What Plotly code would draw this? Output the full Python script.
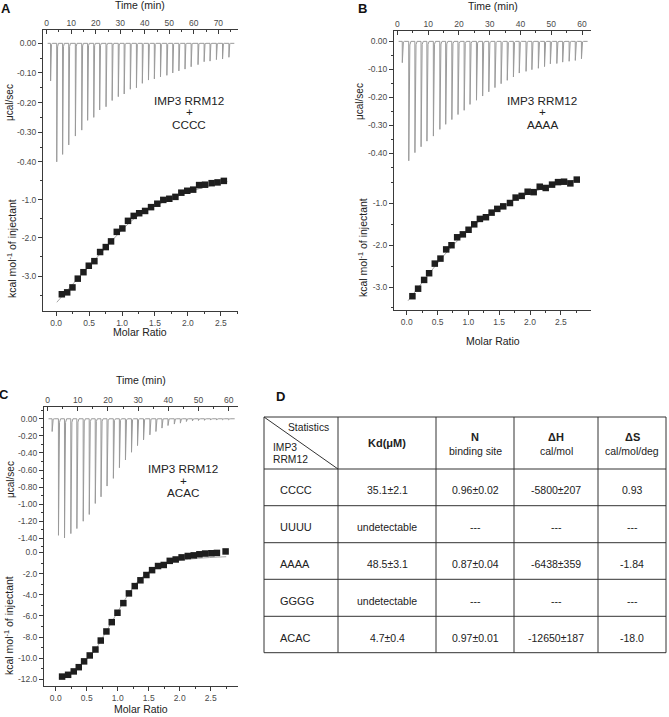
import plotly.graph_objects as go

W, H = 669, 717
FONT = "Liberation Sans, Arial, sans-serif"

# ---------------- DATA ----------------
# Panel A : IMP3 RRM12 + CCCC
A_inj_time = [1.6, 4.1, 6.5, 9.0, 11.7, 14.3, 16.7, 19.2, 21.6, 24.2, 26.7, 29.2, 31.6, 34.1, 36.6,
              39.0, 41.5, 43.9, 46.4, 49.0, 51.4, 53.9, 56.4, 58.9, 61.7, 64.2, 66.6, 69.2, 71.7, 74.3]
A_inj_peak = [-0.127, -0.40, -0.375, -0.343, -0.313, -0.293, -0.26, -0.25, -0.225, -0.214, -0.193,
              -0.18, -0.171, -0.155, -0.15, -0.135, -0.124, -0.12, -0.113, -0.108, -0.10, -0.093,
              -0.087, -0.079, -0.072, -0.062, -0.06, -0.055, -0.053, -0.047]
A_ratio = [0.086, 0.167, 0.247, 0.328, 0.414, 0.495, 0.58, 0.667, 0.753, 0.833, 0.92, 1.005, 1.09,
           1.177, 1.26, 1.35, 1.44, 1.535, 1.626, 1.717, 1.81, 1.90, 1.99, 2.08, 2.17, 2.26, 2.36,
           2.45, 2.545]
A_heat = [-3.48, -3.43, -3.30, -3.07, -2.90, -2.73, -2.61, -2.37, -2.24, -2.09, -1.84, -1.75, -1.55,
          -1.42, -1.35, -1.29, -1.19, -1.10, -1.00, -0.97, -0.92, -0.81, -0.76, -0.73, -0.61, -0.60,
          -0.56, -0.54, -0.50]
A_fit_x = [0.01, 0.3, 0.6, 0.9, 1.2, 1.5, 1.8, 2.1, 2.4, 2.6]
A_fit_y = [-3.69, -3.12, -2.55, -1.97, -1.47, -1.16, -0.93, -0.74, -0.60, -0.52]

# Panel B : IMP3 RRM12 + AAAA
B_inj_time = [1.6, 3.7, 5.7, 7.7, 9.6, 11.7, 13.8, 15.7, 17.7, 19.7, 21.7, 23.6, 25.7, 27.7, 29.7,
              31.7, 33.7, 35.7, 37.7, 39.6, 41.8, 43.7, 45.8, 47.8, 49.7, 51.8, 53.7, 55.8, 57.8, 59.8]
B_inj_peak = [-0.076, -0.426, -0.397, -0.376, -0.356, -0.338, -0.314, -0.296, -0.279, -0.261, -0.246,
              -0.225, -0.21, -0.195, -0.18, -0.165, -0.151, -0.139, -0.127, -0.113, -0.107, -0.101,
              -0.096, -0.09, -0.08, -0.079, -0.074, -0.071, -0.068, -0.062]
B_ratio = [0.092, 0.184, 0.282, 0.363, 0.455, 0.547, 0.64, 0.726, 0.818, 0.91, 1.003, 1.095, 1.187,
           1.285, 1.377, 1.469, 1.566, 1.675, 1.767, 1.865, 1.962, 2.06, 2.158, 2.255, 2.358, 2.455,
           2.553, 2.655, 2.759]
B_heat = [-3.22, -3.04, -2.83, -2.67, -2.44, -2.32, -2.10, -2.00, -1.81, -1.74, -1.63, -1.50, -1.37,
          -1.33, -1.22, -1.13, -1.07, -0.99, -0.86, -0.82, -0.72, -0.73, -0.60, -0.63, -0.55, -0.49,
          -0.48, -0.52, -0.43]
B_fit_x = [0.02, 0.3, 0.6, 0.9, 1.2, 1.5, 1.8, 2.1, 2.4, 2.78]
B_fit_y = [-3.33, -2.80, -2.25, -1.78, -1.40, -1.12, -0.88, -0.70, -0.56, -0.43]

# Panel C : IMP3 RRM12 + ACAC
C_inj_time = [1.5, 3.6, 5.6, 7.7, 9.7, 11.8, 13.8, 15.8, 17.7, 19.7, 21.8, 23.8, 25.8, 27.8, 29.8,
              31.8, 33.9, 35.9, 37.9, 39.9, 42.0, 44.0, 46.0, 48.0, 50.0, 52.0, 54.0, 56.0, 58.0, 60.0]
C_inj_peak = [-0.149, -1.365, -1.396, -1.345, -1.286, -1.20, -1.121, -0.992, -0.914, -0.788, -0.698,
              -0.573, -0.482, -0.392, -0.314, -0.247, -0.188, -0.149, -0.109, -0.079, -0.062, -0.051,
              -0.032, -0.024, -0.02, -0.018, -0.015, -0.015, -0.012, -0.012]
C_ratio = [0.102, 0.199, 0.29, 0.371, 0.457, 0.548, 0.64, 0.726, 0.817, 0.903, 0.995, 1.09, 1.18,
           1.274, 1.366, 1.462, 1.554, 1.65, 1.742, 1.839, 1.935, 2.03, 2.13, 2.226, 2.317, 2.41,
           2.51, 2.60, 2.74]
C_heat = [-11.74, -11.57, -11.25, -10.85, -10.30, -9.74, -9.18, -8.33, -7.47, -6.59, -5.70, -4.79,
          -3.87, -3.18, -2.63, -2.13, -1.67, -1.28, -1.18, -0.79, -0.66, -0.46, -0.33, -0.27, -0.17,
          -0.10, -0.07, -0.04, 0.10]
C_fit_x = [0.05, 0.2, 0.4, 0.6, 0.8, 0.9, 1.0, 1.1, 1.2, 1.3, 1.4, 1.6, 1.8, 2.0, 2.3, 2.75]
C_fit_y = [-11.85, -11.6, -10.6, -9.5, -7.6, -6.6, -5.6, -4.6, -3.7, -2.9, -2.3, -1.45, -1.0, -0.75,
           -0.55, -0.40]

# Tick labels
time_ticks_A = [0, 10, 20, 30, 40, 50, 60, 70]
time_ticks_BC = [0, 10, 20, 30, 40, 50, 60]
ratio_ticks = [0.0, 0.5, 1.0, 1.5, 2.0, 2.5]
ratio_labels = ["0.0", "0.5", "1.0", "1.5", "2.0", "2.5"]
ucal_ticks_AB = [0.0, -0.1, -0.2, -0.3, -0.4]
ucal_labels_AB = ["0.00", "-0.10", "-0.20", "-0.30", "-0.40"]
ucal_ticks_C = [0.0, -0.2, -0.4, -0.6, -0.8, -1.0, -1.2, -1.4]
ucal_labels_C = ["0.00", "-0.20", "-0.40", "-0.60", "-0.80", "-1.00", "-1.20", "-1.40"]
kcal_ticks_AB = [-1.0, -2.0, -3.0]
kcal_labels_AB = ["-1.0", "-2.0", "-3.0"]
kcal_ticks_C = [0.0, -2.0, -4.0, -6.0, -8.0, -10.0, -12.0]
kcal_labels_C = ["0.0", "-2.0", "-4.0", "-6.0", "-8.0", "-10.0", "-12.0"]

# Table (panel D)
table_rows = ["CCCC", "UUUU", "AAAA", "GGGG", "ACAC"]
table_kd = ["35.1±2.1", "undetectable", "48.5±3.1", "undetectable", "4.7±0.4"]
table_n = ["0.96±0.02", "---", "0.87±0.04", "---", "0.97±0.01"]
table_dh = ["-5800±207", "---", "-6438±359", "---", "-12650±187"]
table_ds = ["0.93", "---", "-1.84", "---", "-18.0"]
table_head = ["Kd(μM)", "N", "ΔH", "ΔS"]
table_sub = ["", "binding site", "cal/mol", "cal/mol/deg"]

# ---------------- FIGURE ----------------
fig = go.Figure()
LINE = "#3a3a3a"
TICKFONT = dict(family=FONT, size=8.5, color="#4a4a4a")


def px(x):
    return x / W


def py(y):
    return 1 - y / H


counter = [0]


def aname(i, letter):
    return f"{letter}axis" if i == 1 else f"{letter}axis{i}"


def aref(i, letter):
    return letter if i == 1 else f"{letter}{i}"


def subplot(xdom, ydom, xr, yr, xt, xl, xminor, yt, yl, yminor, top_time):
    counter[0] += 1
    k = counter[0]
    counter[0] += 1
    m = counter[0]
    xd = [px(xdom[0]), px(xdom[1])]
    yd = [py(ydom[1]), py(ydom[0])]
    common = dict(showgrid=False, zeroline=False, showline=True, linecolor=LINE, linewidth=1,
                  tickcolor=LINE, tickwidth=1, fixedrange=True)
    if top_time:
        xmain = dict(side="top", ticks="inside", ticklen=4)
        xmir = dict(side="bottom", ticks="")
    else:
        xmain = dict(side="bottom", ticks="outside", ticklen=4)
        xmir = dict(side="top", ticks="inside", ticklen=4)
    fig.layout[aname(k, "x")] = dict(domain=xd, range=xr, anchor=aref(k, "y"), tickmode="array",
                                     tickvals=xt, ticktext=xl, tickfont=TICKFONT,
                                     minor=dict(dtick=xminor, tick0=0, ticks=xmain["ticks"], ticklen=2,
                                                tickcolor=LINE),
                                     **xmain, **common)
    fig.layout[aname(k, "y")] = dict(domain=yd, range=yr, anchor=aref(k, "x"), tickmode="array",
                                     tickvals=yt, ticktext=yl, tickfont=TICKFONT, side="left",
                                     ticks="outside", ticklen=4,
                                     minor=dict(dtick=yminor, tick0=0, ticks="outside", ticklen=2,
                                                tickcolor=LINE),
                                     **common)
    xm = dict(domain=xd, range=xr, anchor=aref(k, "y"), overlaying=aref(k, "x"), tickmode="array",
              tickvals=xt, showticklabels=False, **xmir, **common)
    if xmir["ticks"]:
        xm["minor"] = dict(dtick=xminor, tick0=0, ticks="inside", ticklen=2, tickcolor=LINE)
    fig.layout[aname(m, "x")] = xm
    fig.layout[aname(m, "y")] = dict(domain=yd, range=yr, anchor=aref(k, "x"), overlaying=aref(k, "y"),
                                     side="right", tickmode="array", tickvals=yt, showticklabels=False,
                                     ticks="inside", ticklen=4,
                                     minor=dict(dtick=yminor, tick0=0, ticks="inside", ticklen=2,
                                                tickcolor=LINE),
                                     **common)
    return aref(k, "x"), aref(k, "y")


def thermogram(times, peaks, t_end):
    xs, ys = [times[0] - 1.2], [0.0]
    for t, p in zip(times, peaks):
        xs += [t - 0.02, t, t + 0.12, t + 0.35, t + 0.7]
        ys += [0.0, p, p * 0.22, p * 0.03, 0.0]
    xs.append(t_end)
    ys.append(0.0)
    return xs, ys


panels = [
    dict(top=(43, 238, 30, 171), bot=(43, 238, 171, 311), trange=[-1.5, 78], urange=[-0.431, 0.045],
         rrange=[-0.2, 2.76], krange=[-3.92, -0.24], tt=time_ticks_A, ut=ucal_ticks_AB, ul=ucal_labels_AB,
         umin=0.05, kt=kcal_ticks_AB, kl=kcal_labels_AB, kmin=0.5,
         inj=(A_inj_time, A_inj_peak), pts=(A_ratio, A_heat), fit=(A_fit_x, A_fit_y), tend=76.5),
    dict(top=(394, 591, 31, 170), bot=(394, 591, 170, 310), trange=[-1.1, 62.9], urange=[-0.459, 0.037],
         rrange=[-0.207, 2.99], krange=[-3.55, -0.20], tt=time_ticks_BC, ut=ucal_ticks_AB, ul=ucal_labels_AB,
         umin=0.05, kt=kcal_ticks_AB, kl=kcal_labels_AB, kmin=0.5,
         inj=(B_inj_time, B_inj_peak), pts=(B_ratio, B_heat), fit=(B_fit_x, B_fit_y), tend=61.8),
    dict(top=(44, 238, 407, 547), bot=(44, 238, 547, 686), trange=[-1.2, 63.1], urange=[-1.502, 0.138],
         rrange=[-0.19, 2.94], krange=[-12.63, 0.52], tt=time_ticks_BC, ut=ucal_ticks_C, ul=ucal_labels_C,
         umin=0.1, kt=kcal_ticks_C, kl=kcal_labels_C, kmin=1.0,
         inj=(C_inj_time, C_inj_peak), pts=(C_ratio, C_heat), fit=(C_fit_x, C_fit_y), tend=62.0),
]

for p in panels:
    x0, x1, y0, y1 = p["top"]
    xa, ya = subplot((x0, x1), (y0, y1), p["trange"], p["urange"], p["tt"], [str(v) for v in p["tt"]], 5,
                     p["ut"], p["ul"], p["umin"], True)
    tx, ty = thermogram(p["inj"][0], p["inj"][1], p["tend"])
    fig.add_trace(go.Scatter(x=tx, y=ty, mode="lines", line=dict(color="#9a9a9a", width=1),
                             xaxis=xa, yaxis=ya, hoverinfo="skip"))
    x0, x1, y0, y1 = p["bot"]
    xa, ya = subplot((x0, x1), (y0, y1), p["rrange"], p["krange"], ratio_ticks, ratio_labels, 0.25,
                     p["kt"], p["kl"], p["kmin"], False)
    fig.add_trace(go.Scatter(x=p["fit"][0], y=p["fit"][1], mode="lines", line=dict(color="#a8a8a8", width=1),
                             line_shape="spline", xaxis=xa, yaxis=ya, hoverinfo="skip"))
    fig.add_trace(go.Scatter(x=p["pts"][0], y=p["pts"][1], mode="markers",
                             marker=dict(symbol="square", size=6.5, color="#1e1e1e"),
                             xaxis=xa, yaxis=ya))

ann = []


def text(x, y, s, size=10.5, bold=False, angle=0, color="#222", xanchor="center"):
    if bold:
        s = f"<b>{s}</b>"
    ann.append(dict(x=px(x), y=py(y), xref="paper", yref="paper", text=s, showarrow=False,
                    font=dict(family=FONT, size=size, color=color), textangle=angle,
                    xanchor=xanchor, yanchor="middle"))


# panel letters
text(6, 9, "A", 13, True, color="#111")
text(362, 9, "B", 13, True, color="#111")
text(4, 394, "C", 13, True, color="#111")
text(280, 396, "D", 13, True, color="#111")

# axis titles
for (cx, ty, my, ux, uy, kx, ky) in [(140, 5, 332, 10, 103, 11, 249),
                                     (493, 6, 341, 359, 102, 362, 248),
                                     (141, 380, 709, 10, 480, 8, 626)]:
    text(cx, ty, "Time (min)", 10.5)
    text(cx, my, "Molar Ratio", 10.5)
    text(ux, uy, "μcal/sec", 10, angle=-90)
    text(kx, ky, "kcal mol<sup>-1</sup> of injectant", 10.5, angle=-90)

# complex labels
for (cx, ys, lig) in [(189, (100.5, 111, 124), "CCCC"), (542, (101, 111.5, 124), "AAAA"),
                      (183, (468.5, 480, 492.5), "ACAC")]:
    text(cx, ys[0], "IMP3 RRM12", 11.7)
    text(cx, ys[1], "+", 11.7)
    text(cx, ys[2], lig, 11.7)

# ---------------- TABLE ----------------
col_x = [264, 338, 436, 514, 598, 666]
row_y = [417, 469, 505.7, 542.7, 579.3, 616.3, 652.7]
shapes = []
TL = "#333333"


def seg(xa, ya, xb, yb):
    shapes.append(dict(type="line", xref="paper", yref="paper", x0=px(xa), y0=py(ya), x1=px(xb), y1=py(yb),
                       line=dict(color=TL, width=1)))


for yv in row_y:
    seg(col_x[0], yv, col_x[-1], yv)
for xv in col_x:
    seg(xv, row_y[0], xv, row_y[-1])
seg(col_x[0], row_y[0], col_x[1], row_y[1])

text(308, 427.5, "Statistics", 10.3)
text(271, 447, "IMP3", 10.3, xanchor="left")
text(271, 459.5, "RRM12", 10.3, xanchor="left")

for j in range(4):
    cx = (col_x[j + 1] + col_x[j + 2]) / 2
    if table_sub[j]:
        text(cx, 437, table_head[j], 11, True)
        text(cx, 451, table_sub[j], 10.5)
    else:
        text(cx, 443, table_head[j], 11, True)

cols = [table_kd, table_n, table_dh, table_ds]
for i, lab in enumerate(table_rows):
    yc = (row_y[i + 1] + row_y[i + 2]) / 2 + 3
    text(278, yc, lab, 11, xanchor="left")
    for j, colvals in enumerate(cols):
        cx = (col_x[j + 1] + col_x[j + 2]) / 2
        text(cx, yc, colvals[i], 10.5)

fig.update_layout(width=W, height=H, margin=dict(l=0, r=0, t=0, b=0), showlegend=False,
                  paper_bgcolor="white", plot_bgcolor="white", annotations=ann, shapes=shapes,
                  font=dict(family=FONT), hovermode=False)

fig.write_html("out.html", config={"displayModeBar": False, "staticPlot": True},
               post_script="document.body.style.margin='0';document.body.style.overflow='hidden';")
